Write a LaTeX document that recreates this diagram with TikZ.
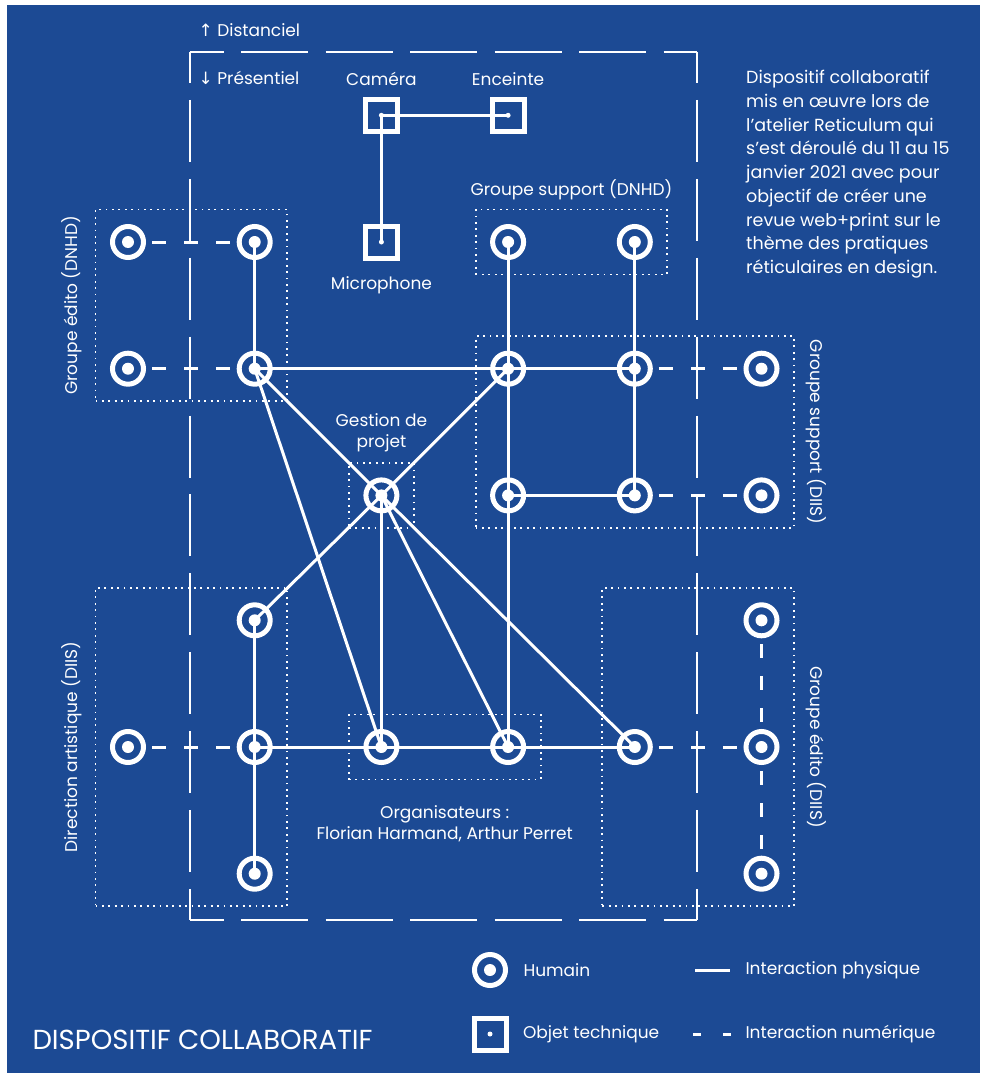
\documentclass[tikz,border=0pt]{standalone}
\usepackage{fontspec}
\setmainfont{Poppins}
\newfontfamily\fleches{DejaVu Sans}
\usetikzlibrary{positioning, fit}
\definecolor{fond}{RGB}{28,74,148}

\begin{document}
\begin{tikzpicture}[
    x=1pt, y=-1pt,
    node distance=126.7pt,
    every node/.style={text=white, font=\fontsize{17}{21}\selectfont},
    humain/.style={circle, draw=white, line width=5pt, minimum size=31pt, inner sep=0pt,
        path picture={\fill[white] (path picture bounding box.center) circle (6pt);}},
    objet/.style={rectangle, draw=white, line width=5pt, minimum size=32pt, inner sep=0pt,
        path picture={\fill[white] (path picture bounding box.center) circle (2.5pt);}},
    groupe/.style={draw=white, line width=1.8pt, dash pattern=on 1.8pt off 4.6pt, inner sep=14.5pt},
    phys/.style={draw=white, line width=3pt},
    num/.style={draw=white, line width=3pt, dash pattern=on 14pt off 18pt, dash phase=26pt},
    cadreh/.style={draw=white, line width=2pt, dash pattern=on 67pt off 17.5pt, dash phase=33.5pt},
    cadrev/.style={draw=white, line width=2pt, dash pattern=on 62pt off 16.9pt, dash phase=31pt},
    lbl/.style={inner sep=2pt}
]
\useasboundingbox (0,0) rectangle (980,1073);
\fill[white] (0,0) rectangle (980,1073);
\fill[fond] (7,5) rectangle (980,1073);

\coordinate (c1) at (190,52);
\coordinate (c2) at (697,52);
\coordinate (c3) at (697,920);
\coordinate (c4) at (190,920);
\draw[cadreh] (c1) -- (c2);
\draw[cadreh] (c4) -- (c3);
\draw[cadrev] (c1) -- (c4);
\draw[cadrev] (c2) -- (c3);

\node (dist) [anchor=west] at (195,30) {{\fleches ↑} Distanciel};
\node (pres) [anchor=west] at (195,78) {{\fleches ↓} Présentiel};

\node (ed1) [humain] at (128,242) {};
\node (ed2) [humain, right of=ed1] {};
\node (micro) [objet, right of=ed2] {};
\node (sd1) [humain, right of=micro] {};
\node (sd2) [humain, right of=sd1] {};
\node (cam) [objet, above of=micro] {};
\node (enc) [objet, right of=cam] {};
\node (ed3) [humain, below of=ed1] {};
\node (ed4) [humain, right of=ed3] {};
\node (ss1) [humain, below of=sd1] {};
\node (ss2) [humain, right of=ss1] {};
\node (ss3) [humain, right of=ss2] {};
\node (ss4) [humain, below of=ss1] {};
\node (ss5) [humain, right of=ss4] {};
\node (ss6) [humain, right of=ss5] {};
\node (gp) [humain, left of=ss4] {};
\node (da2) [humain] at (128,747) {};
\node (da3) [humain, right of=da2] {};
\node (da1) [humain, above of=da3] {};
\node (da4) [humain, below of=da3] {};
\node (org1) [humain, right of=da3] {};
\node (org2) [humain, right of=org1] {};
\node (ei2) [humain, right of=org2] {};
\node (ei3) [humain, right of=ei2] {};
\node (ei1) [humain, above of=ei3] {};
\node (ei4) [humain, below of=ei3] {};

\node (edbox) [groupe, fit=(ed1)(ed4)] {};
\node (sdbox) [groupe, fit=(sd1)(sd2)] {};
\node (ssbox) [groupe, fit=(ss1)(ss6)] {};
\node (gpbox) [groupe, fit=(gp)] {};
\node (dabox) [groupe, fit=(da1)(da2)(da4)] {};
\node (orgbox) [groupe, fit=(org1)(org2)] {};
\node (eibox) [groupe, fit=(ei1)(ei2)(ei4)] {};

\node (camlbl) [above=8pt of cam] {Caméra};
\node (enclbl) [above=8pt of enc] {Enceinte};
\node (microlbl) [below=13pt of micro] {Microphone};
\node (sdlbl) [above=5pt of sdbox] {Groupe support (DNHD)};
\node (gplbl) [above=7pt of gpbox, align=center] {Gestion de\\projet};
\node (orglbl) [below=22pt of orgbox, align=center] {Organisateurs :\\Florian Harmand, Arthur Perret};
\node (edlbl) [lbl, rotate=90, anchor=south] at ([xshift=-10pt]edbox.west) {Groupe édito (DNHD)};
\node (dalbl) [lbl, rotate=90, anchor=south] at ([xshift=-10pt]dabox.west) {Direction artistique (DIIS)};
\node (sslbl) [lbl, rotate=-90, anchor=south] at ([xshift=9pt]ssbox.east) {Groupe support (DIIS)};
\node (eilbl) [lbl, rotate=-90, anchor=south] at ([xshift=9pt]eibox.east) {Groupe édito (DIIS)};

\draw[phys] (cam.center) -- (enc.center);
\draw[phys] (cam.center) -- (micro.center);
\draw[phys] (ed2.center) -- (ed4.center);
\draw[phys] (ed4.center) -- (ss1.center) -- (ss2.center);
\draw[phys] (sd1.center) -- (ss1.center) -- (ss4.center) -- (org2.center);
\draw[phys] (sd2.center) -- (ss2.center) -- (ss5.center);
\draw[phys] (ss4.center) -- (ss5.center);
\draw[phys] (ed4.center) -- (gp.center) -- (ei2.center);
\draw[phys] (ed4.center) -- (org1.center);
\draw[phys] (ss1.center) -- (gp.center) -- (da1.center);
\draw[phys] (gp.center) -- (org1.center);
\draw[phys] (gp.center) -- (org2.center);
\draw[phys] (da1.center) -- (da3.center) -- (da4.center);
\draw[phys] (da3.center) -- (org1.center) -- (org2.center) -- (ei2.center);

\draw[num] (ed1) -- (ed2);
\draw[num] (ed3) -- (ed4);
\draw[num] (ss2) -- (ss3);
\draw[num] (ss5) -- (ss6);
\draw[num] (da2) -- (da3);
\draw[num] (ei2) -- (ei3);
\draw[num] (ei1) -- (ei3);
\draw[num] (ei3) -- (ei4);

\node (note) [anchor=north west, align=left, inner sep=0pt, font=\fontsize{17.5}{23.75}\selectfont] at (746,70) {Dispositif collaboratif\\mis en œuvre lors de\\l’atelier Reticulum qui\\s’est déroulé du 11 au 15\\janvier 2021 avec pour\\objectif de créer une\\revue web+print sur le\\thème des pratiques\\réticulaires en design.};

\node (leghum) [humain] at (490,970) {};
\node (leghumlbl) [right=12pt of leghum] {Humain};
\node (legobj) [objet] at (490,1034) {};
\node (legobjlbl) [right=11pt of legobj] {Objet technique};
\coordinate (lp1) at (695,970);
\coordinate (lp2) at (730,970);
\draw[phys] (lp1) -- (lp2);
\node (legphys) [anchor=west] at (742,970) {Interaction physique};
\coordinate (ln1) at (693,1034);
\coordinate (ln2) at (731,1034);
\draw[phys, dash pattern=on 8pt off 22pt] (ln1) -- (ln2);
\node (legnum) [anchor=west] at (742,1034) {Interaction numérique};

\node (titre) [anchor=west, font=\fontsize{27.5}{32}\selectfont] at (29,1040) {DISPOSITIF COLLABORATIF};
\end{tikzpicture}
\end{document}
